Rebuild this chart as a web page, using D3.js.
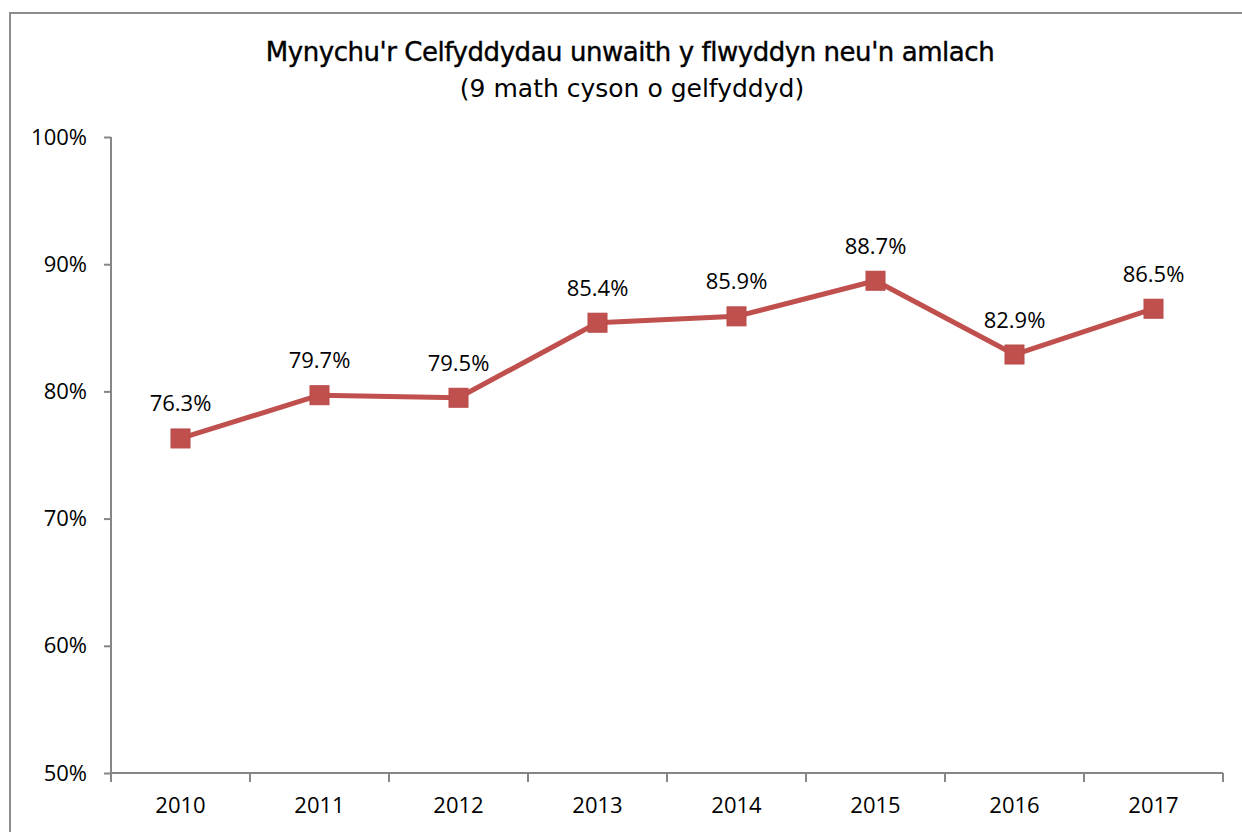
<!DOCTYPE html>
<html>
<head>
<meta charset="utf-8">
<script src="https://cdn.jsdelivr.net/npm/d3@7"></script>
<style>
  body { margin: 0; background: #fff; }
  text { font-family: "Open Sans", "Liberation Sans", sans-serif; }
</style>
</head>
<body>
<div id="canvas"></div>
<script>
"use strict"

/* Data */
let years = ["2010", "2011", "2012", "2013", "2014", "2015", "2016", "2017"];
let attendance = [76.3, 79.7, 79.5, 85.4, 85.9, 88.7, 82.9, 86.5];
let yTicks = [50, 60, 70, 80, 90, 100];

/* Drawing config */
let svgWidth = 1242;
let svgHeight = 832;
let plotLeft = 111, plotRight = 1223, plotTop = 137, plotBottom = 773;
let red = "#C0504D";

let svg = d3.select("#canvas")
    .append("svg")
    .attr("width", svgWidth)
    .attr("height", svgHeight);

/* chart frame */
svg.append("rect")
    .attr("x", 10)
    .attr("y", 13)
    .attr("width", 1250)
    .attr("height", 840)
    .attr("fill", "none")
    .attr("stroke", "#8c8c8c")
    .attr("stroke-width", 2);

/* title */
svg.append("text")
    .attr("x", 630)
    .attr("y", 61)
    .attr("text-anchor", "middle")
    .style("font-family", "'DejaVu Sans', sans-serif")
    .style("font-size", "26px")
    .style("letter-spacing", "-0.45px")
    .attr("fill", "#000")
    .attr("stroke", "#000")
    .attr("stroke-width", 0.4)
    .text("Mynychu'r Celfyddydau unwaith y flwyddyn neu'n amlach");

svg.append("text")
    .attr("x", 632)
    .attr("y", 97)
    .attr("text-anchor", "middle")
    .style("font-family", "'DejaVu Sans', sans-serif")
    .style("font-size", "25px")
    .attr("fill", "#000")
    .text("(9 math cyson o gelfyddyd)");

/* scales */
let xScale = d3.scaleBand()
    .domain(years)
    .range([plotLeft, plotRight]);

let yScale = d3.scaleLinear()
    .domain([50, 100])
    .range([plotBottom, plotTop]);

/* y axis */
let yAxis = svg.append("g")
    .attr("transform", "translate(" + plotLeft + ",0)")
    .call(d3.axisLeft(yScale)
        .tickValues(yTicks)
        .tickSize(7)
        .tickPadding(17)
        .tickFormat(function(d) { return d + "%"; }));

yAxis.selectAll("path, line").attr("stroke", "#868686").attr("stroke-width", 2);
yAxis.select(".domain").attr("d", "M0," + plotTop + "V" + plotBottom);
yAxis.selectAll("text")
    .attr("fill", "#000")
    .style("font-size", "22px")
    .style("font-family", "'Open Sans', sans-serif");

/* x axis */
let xAxis = svg.append("g")
    .attr("transform", "translate(0," + plotBottom + ")")
    .call(d3.axisBottom(xScale).tickSize(0).tickPadding(24));

xAxis.select(".domain")
    .attr("stroke", "#868686")
    .attr("stroke-width", 2)
    .attr("d", "M" + plotLeft + ",0H" + plotRight);
xAxis.selectAll("text")
    .attr("fill", "#000")
    .style("font-size", "22px")
    .style("font-family", "'Open Sans', sans-serif");

/* category boundary ticks */
let bounds = years.map(function(d) { return xScale(d); }).concat([plotRight]);
svg.append("g")
    .selectAll("line")
    .data(bounds)
    .join("line")
    .attr("x1", function(d) { return d; })
    .attr("x2", function(d) { return d; })
    .attr("y1", plotBottom)
    .attr("y2", plotBottom + 9)
    .attr("stroke", "#868686")
    .attr("stroke-width", 2);

/* line */
let cx = function(d, i) { return xScale(years[i]) + xScale.bandwidth() / 2; };
let line = d3.line()
    .x(cx)
    .y(function(d) { return yScale(d); });

svg.append("path")
    .datum(attendance)
    .attr("d", line)
    .attr("fill", "none")
    .attr("stroke", red)
    .attr("stroke-width", 5)
    .attr("stroke-linejoin", "round");

/* markers */
let msize = 19;
svg.selectAll("rect.marker")
    .data(attendance)
    .join("rect")
    .attr("class", "marker")
    .attr("x", function(d, i) { return cx(d, i) - msize / 2; })
    .attr("y", function(d) { return yScale(d) - msize / 2; })
    .attr("width", msize)
    .attr("height", msize)
    .attr("fill", red)
    .attr("stroke", "#b84a47")
    .attr("stroke-width", 1);

/* data labels */
svg.selectAll("text.lbl")
    .data(attendance)
    .join("text")
    .attr("class", "lbl")
    .attr("x", cx)
    .attr("y", function(d) { return yScale(d) - 27; })
    .attr("text-anchor", "middle")
    .style("font-size", "22px")
    .attr("fill", "#000")
    .text(function(d) { return d.toFixed(1) + "%"; });
</script>
</body>
</html>
